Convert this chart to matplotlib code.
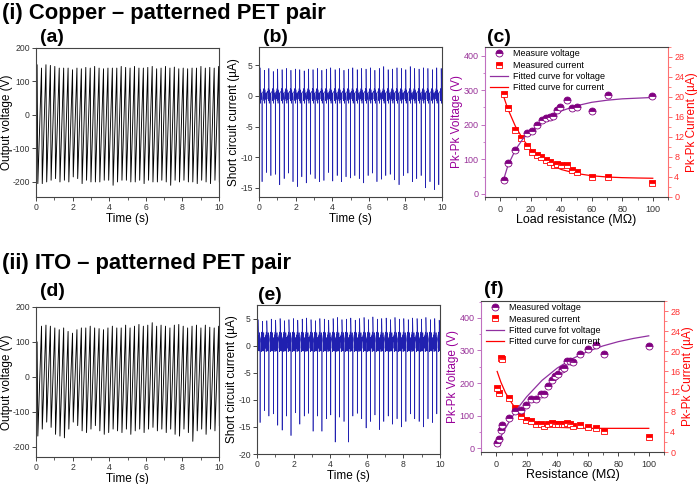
import numpy as np
import matplotlib
matplotlib.use('Agg')
import matplotlib.pyplot as plt
from matplotlib.ticker import MultipleLocator

plt.rcParams['font.family'] = ['Liberation Sans', 'DejaVu Sans']
plt.rcParams['axes.unicode_minus'] = False

# ---------------- data ----------------
# (a) Copper: output voltage peaks per cycle (V)
a_pos = [150, 140, 150, 148, 145, 140, 140, 140, 135, 140, 138, 142, 140, 145, 140, 138, 140, 140, 140, 145, 142,
         140, 145, 140, 140, 142, 145, 138, 140, 145, 140, 143, 138, 140, 138, 140, 140, 145, 140, 142, 140, 145]
a_neg = [-205, -205, -200, -195, -190, -200, -195, -200, -185, -190, -205, -195, -200, -200, -200, -195, -195, -210,
         -200, -195, -195, -200, -200, -195, -205, -195, -200, -200, -195, -200, -210, -195, -200, -195, -200, -200,
         -205, -195, -200, -205, -195, -200]
# (b) Copper: short circuit current peaks per cycle (uA)
b_pos = [4.6, 4.2, 4.5, 4.0, 4.4, 4.3, 4.5, 4.2, 4.4, 4.3, 4.1, 4.4, 4.3, 4.5, 4.2, 4.4, 4.6, 4.3, 4.5, 4.2, 4.4,
         4.6, 4.3, 4.5, 4.4, 4.6, 4.2, 4.5, 4.8, 4.3, 4.4, 4.6, 4.5, 4.3, 4.8, 4.5, 4.4, 4.6, 4.5, 4.3, 4.6, 4.5]
b_neg = [-14.0, -12.5, -13.0, -12.8, -14.5, -13.5, -12.6, -14.0, -14.8, -13.2, -14.2, -12.8, -13.5, -14.0, -13.8,
         -12.5, -13.9, -13.0, -14.0, -13.2, -13.4, -13.0, -13.5, -14.2, -13.0, -12.6, -14.0, -13.6, -13.0, -12.8,
         -13.7, -14.5, -13.0, -12.6, -14.0, -13.5, -13.0, -15.0, -14.0, -15.3, -14.5, -13.5]
# (c) Copper: load resistance sweep
c_res_v = [2.2, 5.2, 9.7, 17.5, 20.8, 24.3, 27.3, 29.9, 32.5, 34.7, 37.3, 39.4, 43.5, 46.8, 50.0, 60.2, 70.4, 99.8]
c_volt = [40, 88, 127, 177, 182, 199, 215, 220, 223, 225, 242, 252, 271, 248, 252, 239, 286, 283]
c_res_i = [2.2, 5.4, 9.7, 13.4, 17.5, 21.0, 24.3, 26.8, 29.9, 32.3, 35.1, 37.3, 39.9, 43.5, 46.8, 50.2, 60.2, 70.4, 99.8]
c_curr = [20.5, 17.8, 13.4, 11.7, 10.2, 8.9, 8.3, 8.0, 7.4, 7.0, 6.4, 6.6, 6.4, 6.3, 5.3, 5.0, 4.0, 4.0, 2.8]
c_fit_x = [2, 5, 10, 15, 20, 30, 40, 50, 60, 70, 80, 90, 100]
c_fit_v = [38, 82, 128, 160, 182, 215, 240, 255, 265, 271, 275, 277, 279]
c_fit_i = [20.3, 17.6, 14.1, 11.5, 9.5, 6.9, 5.5, 4.7, 4.25, 4.0, 3.87, 3.8, 3.75]

# (d) ITO: output voltage peaks per cycle (V)
d_pos = [100, 145, 148, 145, 140, 135, 140, 130, 125, 135, 140, 140, 145, 140, 138, 135, 140, 145, 140, 140, 148,
         140, 145, 150, 145, 148, 155, 145, 148, 145, 140, 148, 150, 145, 140, 145, 148, 140, 148, 142, 140, 145]
d_neg = [-170, -150, -130, -145, -165, -170, -175, -150, -130, -140, -155, -160, -150, -140, -155, -165, -160, -150,
         -155, -160, -150, -165, -155, -150, -160, -150, -145, -155, -150, -160, -150, -165, -170, -150, -160, -185,
         -155, -150, -165, -150, -155, -140]
# (e) ITO: short circuit current peaks per cycle (uA)
e_pos = [4.8, 4.5, 4.6, 4.9, 4.7, 5.0, 4.6, 4.8, 5.0, 4.7, 4.9, 5.1, 4.8, 4.6, 5.0, 4.9, 4.7, 5.0, 5.2, 4.8, 4.9,
         5.1, 4.7, 5.0, 5.2, 4.8, 5.3, 4.9, 5.0, 5.1, 4.8, 5.2, 4.9, 5.0, 4.8, 5.1, 5.0, 4.9, 5.2, 4.8, 5.0, 4.7]
e_neg = [-14.2, -12.0, -13.0, -12.6, -14.7, -15.6, -13.0, -16.6, -12.4, -14.5, -13.0, -12.5, -15.8, -13.0, -15.8,
         -13.5, -12.8, -17.8, -13.2, -14.0, -17.8, -13.0, -12.5, -13.5, -15.2, -14.0, -12.8, -15.5, -14.0, -13.0,
         -14.5, -13.5, -15.0, -14.0, -12.6, -13.5, -14.0, -15.0, -13.5, -14.2, -12.6, -13.0]
# (f) ITO: resistance sweep
f_res = [0.6, 1.7, 3.0, 3.9, 8.3, 12.5, 16.2, 19.8, 22.8, 26.0, 29.2, 31.5, 34.0, 36.5, 38.6, 40.8, 42.8, 44.7,
         46.5, 48.3, 50.4, 54.8, 60.2, 65.7, 70.5, 100]
f_volt = [15, 27, 55, 71, 93, 113, 118, 131, 150, 150, 165, 167, 190, 210, 222, 227, 242, 247, 268, 267, 265, 290,
          306, 316, 290, 313]
f_curr = [12.8, 11.8, 18.6, 18.5, 10.8, 8.7, 7.2, 6.3, 6.2, 5.5, 5.6, 5.2, 5.5, 5.8, 5.6, 5.6, 5.5, 5.5, 5.8, 5.6,
          5.2, 5.3, 5.0, 4.7, 4.1, 3.0]
f_fit_x = [0.5, 5, 10, 15, 20, 30, 40, 50, 60, 70, 80, 90, 100]
f_fit_v = [13, 53, 93, 128, 158, 208, 246, 275, 297, 314, 327, 337, 345]
f_fit_xi = [0.6, 3, 6, 10, 15, 20, 25, 30, 40, 50, 60, 80, 100]
f_fit_i = [16.0, 13.9, 11.8, 9.8, 7.6, 6.4, 5.7, 5.3, 4.9, 4.8, 4.7, 4.7, 4.7]

# -------------- helpers ---------------
W, H = 700, 484
fig = plt.figure(figsize=(7, 4.84), dpi=100)

def ax_px(l, t, r, b):
    return fig.add_axes([l / W, 1 - b / H, (r - l) / W, (b - t) / H])

SP = '#444444'
TK = '#333333'

def style(ax, xlabel, ylabel, ylab_x):
    for s in ax.spines.values():
        s.set_color(SP)
        s.set_linewidth(0.8)
    ax.tick_params(direction='out', length=3, width=0.7, colors=SP, labelsize=6.2, labelcolor=TK, pad=1.5)
    ax.tick_params(which='minor', direction='out', length=1.8, width=0.6, colors=SP)
    ax.set_xlabel(xlabel, fontsize=8.5, labelpad=0.5)
    ax.set_ylabel(ylabel, fontsize=8.5)
    ax.yaxis.set_label_coords(ylab_x, 0.5)

def voltage_trace(pos, neg, t0=0.06, t1=9.98):
    times = np.linspace(t0, t1, len(pos))
    xs, ys = [0.0], [-20.0]
    for t, p, n in zip(times, pos, neg):
        xs += [t, t + 0.04]
        ys += [p, n]
    return np.array(xs), np.array(ys)

def current_trace(pos, neg, base, t0=0.05, t1=9.95):
    times = np.linspace(t0, t1, len(pos))
    tb = np.linspace(0.015, 0.215, len(base))
    xs, ys = [0.0], [0.0]
    for t, p, n in zip(times, pos, neg):
        xs += [t, t + 0.005]
        ys += [0.0, p]
        xs += list(t + 0.01 + tb[:len(base) // 2])
        ys += list(base[:len(base) // 2])
        xs += [t + 0.118, t + 0.122]
        ys += [n, 0.5]
        xs += list(t + 0.125 + tb[len(base) // 2:] * 0.5)
        ys += list(base[len(base) // 2:])
    return np.array(xs), np.array(ys)

def time_axis(ax):
    ax.set_xlim(0, 10)
    ax.xaxis.set_major_locator(MultipleLocator(2))
    ax.xaxis.set_minor_locator(MultipleLocator(1))

# ---------------- (a) ----------------
ax = ax_px(36, 48, 219, 197)
x, y = voltage_trace(a_pos, a_neg)
ax.plot(x, y, color='black', lw=0.65)
ax.set_ylim(-245, 200)
ax.yaxis.set_major_locator(MultipleLocator(100))
time_axis(ax)
style(ax, 'Time (s)', 'Output voltage (V)', -0.128)

# ---------------- (b) ----------------
b_base = [-1.2, 1.0, -0.6, 0.5, -0.3, 0.8, -0.5, 1.2, -0.8, 0.4]
ax = ax_px(259, 47, 442, 197)
x, y = current_trace(b_pos, b_neg, b_base)
ax.plot(x, y, color='#2020b0', lw=0.45)
ax.set_ylim(-16.5, 8)
ax.yaxis.set_major_locator(MultipleLocator(5))
time_axis(ax)
style(ax, 'Time (s)', 'Short circuit current (\u00b5A)', -0.103)

# ---------------- (d) ----------------
ax = ax_px(36, 307, 219, 457)
x, y = voltage_trace(d_pos, d_neg)
ax.plot(x, y, color='black', lw=0.65)
ax.set_ylim(-230, 200)
ax.yaxis.set_major_locator(MultipleLocator(100))
time_axis(ax)
style(ax, 'Time (s)', 'Output voltage (V)', -0.125)

# ---------------- (e) ----------------
e_base = [2.2, -0.9, 1.8, -1.0, 2.4, -0.7, 1.5, -1.2, 2.0, -0.5, 1.7, -1.1, 2.5, -0.8, 1.9, -1.0]
ax = ax_px(257, 305, 440, 454)
x, y = current_trace(e_pos, e_neg, e_base)
ax.plot(x, y, color='#2020b0', lw=0.45)
ax.set_ylim(-20, 7.5)
ax.yaxis.set_major_locator(MultipleLocator(5))
time_axis(ax)
style(ax, 'Time (s)', 'Short circuit current (\u00b5A)', -0.106)

# ---------------- (c) / (f) ----------------
PURP = '#800080'
PURP_L = '#c070c0'
RED = '#ff0000'
RED_L = '#ff7070'

def dual(l, t, r, b, xlabel, vx, vy, ix, iy, fx, fv, fxi, fi, labels, ylim_v):
    ax = ax_px(l, t, r, b)
    ax2 = ax.twinx()
    ax.set_zorder(2)
    ax.patch.set_visible(False)
    l1, = ax.plot(vx, vy, 'o', ms=5, color=PURP, mec=PURP, mfc=PURP, fillstyle='top',
                  markerfacecoloralt='white', mew=0.6, zorder=3)
    l3, = ax.plot(fx, fv, '-', color='#9030a0', lw=0.9)
    l2, = ax2.plot(ix, iy, 's', ms=4.5, color=RED, mec=RED, mfc=RED, fillstyle='top',
                   markerfacecoloralt='white', mew=0.6, zorder=3)
    l4, = ax2.plot(fxi, fi, '-', color=RED, lw=0.9)
    ax.set_xlim(-10, 110)
    ax.set_ylim(*ylim_v)
    ax2.set_ylim(0, 30)
    ax.xaxis.set_major_locator(MultipleLocator(20))
    ax.xaxis.set_minor_locator(MultipleLocator(10))
    ax.yaxis.set_major_locator(MultipleLocator(100))
    ax.yaxis.set_minor_locator(MultipleLocator(50))
    ax2.yaxis.set_major_locator(MultipleLocator(4))
    ax2.yaxis.set_minor_locator(MultipleLocator(2))
    for s in ax.spines.values():
        s.set_color(SP); s.set_linewidth(0.8)
    ax.spines['left'].set_color(PURP_L)
    ax.spines['right'].set_visible(False)
    for s in ['top', 'bottom', 'left']:
        ax2.spines[s].set_visible(False)
    ax2.spines['right'].set_color(RED_L)
    ax2.spines['right'].set_linewidth(0.8)
    ax.tick_params(axis='x', direction='out', length=3, width=0.7, colors=SP, labelsize=6.5,
                   labelcolor=TK, pad=2.5)
    ax.tick_params(axis='x', which='minor', length=1.8, width=0.6, colors=SP)
    ax.tick_params(axis='y', which='both', direction='out', colors=PURP_L, labelcolor='#993399',
                   labelsize=6.5, pad=1.5)
    ax.tick_params(axis='y', length=3, width=0.7)
    ax.tick_params(axis='y', which='minor', length=1.8, width=0.6)
    ax2.tick_params(axis='y', which='both', direction='out', colors=RED_L, labelcolor='#ff3030',
                    labelsize=6.5, pad=1.5)
    ax2.tick_params(axis='y', length=3, width=0.7)
    ax2.tick_params(axis='y', which='minor', length=1.8, width=0.6)
    ax.set_xlabel(xlabel, fontsize=9, labelpad=0.5)
    ax.set_ylabel('Pk-Pk Voltage (V)', fontsize=8.5, color='#990099', labelpad=0.5)
    ax2.set_ylabel('Pk-Pk Current (\u00b5A)', fontsize=8.5, color=RED, labelpad=1.5)
    ax.legend([l1, l2, l3, l4], labels, loc='upper left', bbox_to_anchor=(0.0, 1.02), frameon=False,
              fontsize=6.5, handlelength=2.0, labelspacing=0.25, handletextpad=0.5, borderaxespad=0.2)
    return ax

dual(485, 47, 668, 197, 'Load resistance (M\u03a9)', c_res_v, c_volt, c_res_i, c_curr,
     c_fit_x, c_fit_v, c_fit_x, c_fit_i,
     ['Measure voltage', 'Measured current', 'Fitted curve for voltage', 'Fitted curve for current'], (-9, 425))
dual(481, 301, 664, 452, 'Resistance (M\u03a9)', f_res, f_volt, f_res, f_curr,
     f_fit_x, f_fit_v, f_fit_xi, f_fit_i,
     ['Measured voltage', 'Measured current', 'Fitted curve fot voltage', 'Fitted curve for current'], (-12, 452))

# ---------------- titles ----------------
fig.text(2 / W, 1 - 14 / H, '(i) Copper \u2013 patterned PET pair', fontsize=15.8, fontweight='bold', va='center')
fig.text(2 / W, 1 - 263 / H, '(ii) ITO \u2013 patterned PET pair', fontsize=15.8, fontweight='bold', va='center')
for lab, px, py in [('(a)', 40, 37), ('(b)', 263, 37), ('(c)', 487, 37),
                    ('(d)', 40, 292), ('(e)', 258, 295), ('(f)', 484, 289)]:
    fig.text(px / W, 1 - py / H, lab, fontsize=14, fontweight='bold', va='center')

fig.savefig('out.png', dpi=100)
